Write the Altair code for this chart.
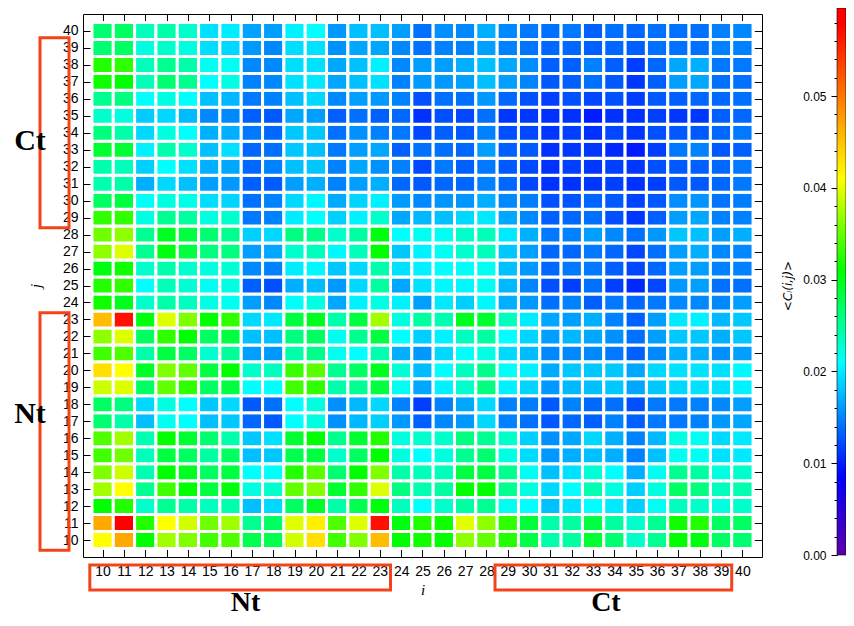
import altair as alt
import pandas as pd

# residue indices
i_vals = [10, 11, 12, 13, 14, 15, 16, 17, 18, 19, 20, 21, 22, 23, 24, 25,
          26, 27, 28, 29, 30, 31, 32, 33, 34, 35, 36, 37, 38, 39, 40]
j_vals = [10, 11, 12, 13, 14, 15, 16, 17, 18, 19, 20, 21, 22, 23, 24, 25,
          26, 27, 28, 29, 30, 31, 32, 33, 34, 35, 36, 37, 38, 39, 40]

# <C_l(i,j)> in units of 1e-4 ; one row per j (10..40), columns i = 10..40
C_E4 = [
    [410,467,310,373,360,335,341,279,279,392,431,335,360,455,310,316,310,366,348,323,282,243,247,291,266,230,253,310,304,272,266],
    [467,580,323,410,392,354,373,253,272,398,420,341,397,569,304,323,316,398,366,329,288,243,247,285,247,230,253,316,323,272,272],
    [310,323,230,253,243,235,243,179,191,272,294,243,279,304,235,210,230,247,253,216,210,179,195,210,199,187,215,235,230,222,230],
    [373,410,253,335,310,285,304,222,230,348,363,291,329,397,260,241,247,310,310,253,222,191,210,241,222,187,222,272,260,235,241],
    [360,390,241,310,297,272,285,210,212,323,345,266,310,360,243,237,237,285,285,253,215,179,195,227,210,171,215,253,247,222,230],
    [335,354,237,285,272,247,272,179,183,279,285,230,272,310,222,210,222,253,266,221,193,160,171,179,171,148,179,215,215,195,199],
    [341,373,241,310,291,266,243,183,195,291,310,253,291,323,222,230,230,260,253,230,187,156,167,191,171,148,175,221,215,191,199],
    [266,243,179,216,210,179,183,136,128,210,222,156,175,187,160,132,152,160,191,148,140,128,136,132,148,132,144,144,148,160,167],
    [272,260,191,222,210,183,191,128,140,210,222,156,175,191,148,116,148,167,191,148,146,128,148,136,140,124,144,144,148,152,163],
    [390,397,272,348,329,272,285,210,210,335,329,243,253,285,215,167,203,230,260,203,189,160,175,179,183,167,183,191,195,195,203],
    [431,410,294,360,348,285,310,230,235,332,345,253,272,297,227,177,210,236,256,213,203,169,183,183,183,167,191,195,197,195,207],
    [335,341,243,285,272,230,250,163,160,243,256,216,210,241,171,160,191,210,221,191,177,152,152,152,144,132,152,171,171,156,163],
    [366,397,272,329,310,272,285,179,179,260,272,215,253,285,210,187,203,235,247,210,189,163,175,167,156,140,163,183,183,171,183],
    [455,569,304,397,360,310,329,191,199,285,297,243,285,373,222,247,241,297,291,235,201,167,163,171,148,132,163,199,203,175,183],
    [316,297,230,243,235,221,216,163,152,212,221,167,203,221,203,163,199,187,207,171,160,140,148,132,144,136,144,152,152,152,163],
    [323,329,210,237,227,215,222,132,124,171,177,160,191,247,167,195,207,207,215,175,150,124,116,140,116,105,120,160,163,140,140],
    [304,316,230,243,230,222,227,152,148,201,207,183,191,243,195,203,210,212,215,179,160,136,144,144,132,120,136,163,163,148,148],
    [366,397,253,304,285,260,260,163,167,230,237,207,237,310,183,203,215,230,237,183,163,136,136,144,136,120,140,163,171,152,152],
    [354,366,253,297,285,266,253,187,191,260,256,230,247,304,210,216,215,230,237,199,171,144,148,163,152,140,160,183,179,163,171],
    [329,329,222,253,247,222,230,144,148,201,210,187,203,230,167,175,179,191,199,167,152,132,136,140,124,112,132,163,167,148,148],
    [272,285,213,222,219,194,189,140,148,191,207,169,189,203,161,152,158,158,171,152,146,124,126,134,128,118,128,154,158,142,146],
    [241,244,171,191,179,163,160,132,130,163,171,148,163,171,136,128,136,136,148,136,120,109,109,112,116,109,116,128,128,136,144],
    [243,237,187,210,195,171,167,136,148,179,183,148,167,156,148,120,144,132,144,128,120,109,116,112,116,112,124,128,132,136,144],
    [291,291,203,243,230,179,195,136,140,183,179,144,163,167,132,140,140,136,163,132,128,109,112,112,105,98,116,144,148,128,132],
    [260,243,191,222,210,171,171,144,136,183,183,140,156,148,144,120,132,128,148,124,120,112,116,109,120,112,124,128,128,136,144],
    [230,222,185,191,177,152,152,132,128,167,163,132,140,132,136,109,124,120,140,112,112,109,109,98,109,109,116,112,112,132,136],
    [253,260,210,222,210,179,175,144,148,179,191,152,163,160,148,124,140,140,160,136,124,116,124,120,124,116,128,132,136,136,140],
    [316,310,237,266,253,210,222,148,152,195,199,167,179,195,148,160,160,163,179,163,150,128,132,140,128,112,132,163,167,140,140],
    [323,329,237,253,243,215,215,152,152,194,195,167,179,203,152,163,163,171,179,167,154,132,132,148,132,116,136,167,171,144,144],
    [266,272,222,230,222,194,191,160,152,194,195,156,167,167,152,140,148,148,163,148,142,136,136,132,136,132,140,140,140,148,148],
    [266,272,237,243,230,195,201,165,163,203,210,160,179,179,163,140,156,152,171,152,144,140,144,132,140,136,140,140,140,148,152],
]

# colorbar ticks and colour stops of the rainbow table
cb_major = [0.0, 0.01, 0.02, 0.03, 0.04, 0.05]
cb_minor = [k * 0.002 for k in range(30)]
CB_MAX = 0.0596
stop_vals = [0.0, 0.0085, 0.021, 0.031, 0.041, 0.058, CB_MAX]
stop_cols = ["#5c00a8", "#0000ff", "#00ffff", "#00ff00", "#ffff00", "#ff0000", "#ff0000"]

# annotation groups (region boxes)
box_lo = [9.4, 28.4]
box_hi = [23.5, 39.5]
ybox_lo = [9.4, 28.4]
ybox_hi = [23.4, 39.6]

rows = []
for r, j in enumerate(j_vals):
    for c, i in enumerate(i_vals):
        rows.append({"i": i, "j": j, "C": C_E4[r][c] * 1e-4})
df = pd.DataFrame(rows)

W, H = 679, 543
XDOM = [9.08, 40.92]
YDOM = [9.0, 41.0]
LABEL_FONT = "Liberation Sans"
RED = "#f24418"

xs = alt.Scale(domain=XDOM, nice=False, zero=False)
ys = alt.Scale(domain=YDOM, nice=False, zero=False)

common_axis = dict(domain=False, grid=False, tickColor="black", tickSize=8,
                   offset=-8, labelFont=LABEL_FONT, labelFontSize=14,
                   labelColor="black", labelFlush=False, labelOverlap=False)

cells = alt.Chart(df).transform_calculate(
    x0="datum.i - 0.5", x1="datum.i + 0.5", y0="datum.j - 0.5", y1="datum.j + 0.5"
).mark_rect(stroke="white", strokeWidth=3).encode(
    x=alt.X("x0:Q", scale=xs, axis=alt.Axis(
        orient="bottom", values=i_vals, format="d", title="i", labelPadding=7,
        titleFont="Liberation Serif", titleFontStyle="italic", titleFontWeight="normal",
        titleFontSize=15, titlePadding=4, **common_axis)),
    x2="x1:Q",
    y=alt.Y("y0:Q", scale=ys, axis=alt.Axis(
        orient="left", values=j_vals, format="d", title="j", labelPadding=5,
        titleFont="Liberation Serif", titleFontStyle="italic", titleFontWeight="normal",
        titleFontSize=15, titlePadding=19, **common_axis)),
    y2="y1:Q",
    color=alt.Color("C:Q", scale=alt.Scale(domain=stop_vals, range=stop_cols,
                                           interpolate="rgb"), legend=None),
    tooltip=["i:Q", "j:Q", "C:Q"],
)

ticks_tr = alt.Chart(df).mark_point(opacity=0).encode(
    x=alt.X("i:Q", scale=xs, axis=alt.Axis(orient="top", values=i_vals, labels=False,
                                             title=None, **common_axis)),
    y=alt.Y("j:Q", scale=ys, axis=alt.Axis(orient="right", values=j_vals, labels=False,
                                             title=None, **common_axis)),
)

cb_df = pd.DataFrame({"lo": [0.0], "hi": [CB_MAX]})
px_per = 547 / CB_MAX
cb_scale = alt.Scale(domain=[0.0 - 2 / px_per, CB_MAX - 6 / px_per], nice=False, zero=False)
gradient = alt.LinearGradient(
    gradient="linear",
    stops=[alt.GradientStop(offset=v / CB_MAX, color=c) for v, c in zip(stop_vals, stop_cols)],
    x1=0, x2=0, y1=1, y2=0,
)
CBX = 754
colorbar = alt.Chart(cb_df).mark_rect(color=gradient, stroke="black", strokeWidth=0.6).encode(
    x=alt.value(CBX), x2=alt.value(CBX + 9),
    y=alt.Y("lo:Q", scale=cb_scale, axis=alt.Axis(
        orient="left", offset=-CBX, values=cb_major, format=".2f", domain=False, grid=False,
        tickSize=6, tickColor="black", labelFont=LABEL_FONT, labelFontSize=12,
        labelColor="black", labelPadding=5, labelFlush=False, labelOverlap=False,
        title="<Cₗ(i,j)>", titleFont="DejaVu Sans", titleFontStyle="italic",
        titleFontWeight="normal", titleFontSize=12, titlePadding=8, titleColor="black")),
    y2="hi:Q",
)
cb_ticks = alt.Chart(cb_df).mark_rect(opacity=0).encode(
    x=alt.value(CBX), x2=alt.value(CBX + 9),
    y=alt.Y("lo:Q", scale=cb_scale, axis=alt.Axis(
        orient="left", offset=-CBX, values=cb_minor, labels=False, domain=False,
        grid=False, tickSize=3, tickColor="black", title=None)),
    y2="hi:Q",
)

xbox = alt.Chart(pd.DataFrame({"a": box_lo, "b": box_hi})).mark_rect(
    fillOpacity=0, stroke=RED, strokeWidth=3).encode(
    x=alt.X("a:Q", scale=xs, axis=None), x2="b:Q",
    y=alt.value(551), y2=alt.value(576))
ybox = alt.Chart(pd.DataFrame({"a": ybox_lo, "b": ybox_hi})).mark_rect(
    fillOpacity=0, stroke=RED, strokeWidth=3).encode(
    y=alt.Y("a:Q", scale=ys, axis=None), y2="b:Q",
    x=alt.value(-43), x2=alt.value(-14))

xtext = alt.Chart(pd.DataFrame({"pos": [16.7, 33.6], "lab": ["Nt", "Ct"]})).mark_text(
    font="Liberation Serif", fontWeight="bold", fontSize=28, color="black",
    baseline="alphabetic").encode(
    x=alt.X("pos:Q", scale=xs, axis=None), y=alt.value(597), text="lab:N")
ytext = alt.Chart(pd.DataFrame({"pos": [17.4, 33.5], "lab": ["Nt", "Ct"]})).mark_text(
    font="Liberation Serif", fontWeight="bold", fontSize=30, color="black").encode(
    y=alt.Y("pos:Q", scale=ys, axis=None), x=alt.value(-53), text="lab:N")

chart = alt.layer(cells, ticks_tr, colorbar, cb_ticks, xbox, ybox, xtext, ytext).resolve_scale(
    x="independent", y="independent"
).resolve_axis(
    x="independent", y="independent"
).properties(
    width=W, height=H,
    autosize=alt.AutoSizeParams(type="none"),
    padding={"left": 75, "top": 6, "right": 84, "bottom": 61},
).configure_view(stroke="black", strokeWidth=1)

chart.save("out.html", embed_options={"renderer": "svg", "actions": False})
